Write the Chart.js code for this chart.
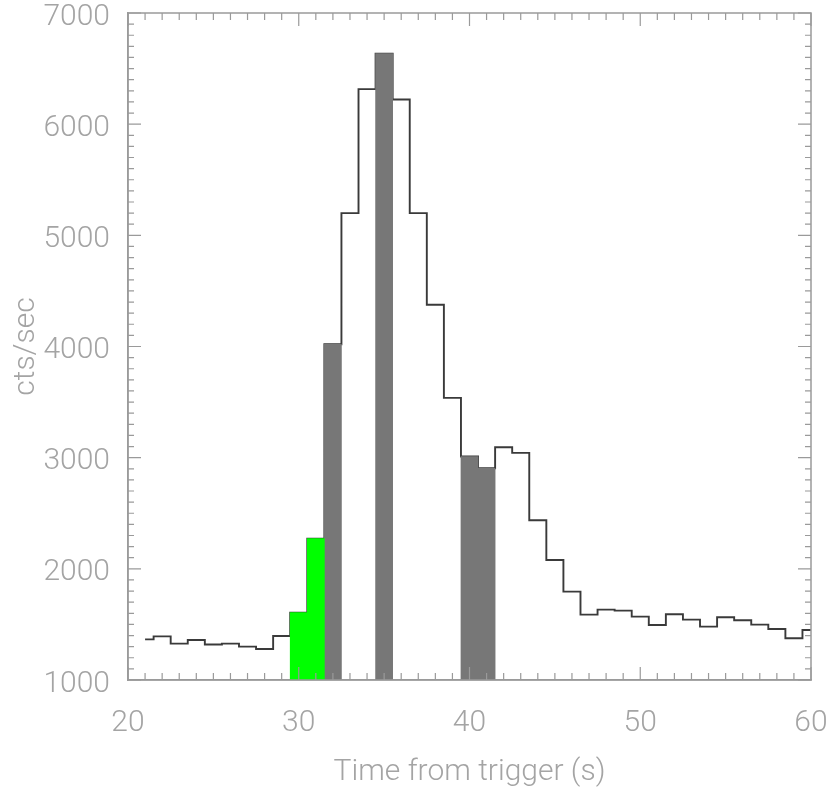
<!DOCTYPE html>
<html>
<head>
<meta charset="utf-8">
<script src="https://cdn.jsdelivr.net/npm/chart.js@4.4.1/dist/chart.umd.min.js"></script>
<style>
html,body{margin:0;padding:0;background:#fff;}
#wrap{width:828px;height:788px;position:relative;}
</style>
</head>
<body>
<div id="wrap"><canvas id="c" width="828" height="788"></canvas></div>
<script>
// Time (s) of each 1-s bin centre
const times = [21,22,23,24,25,26,27,28,29,30,31,32,33,34,35,36,37,38,39,40,41,42,43,44,45,46,47,48,49,50,51,52,53,54,55,56,57,58,59,60];
// Count rate (cts/sec) per bin
const rates = [1365,1392,1327,1360,1320,1327,1300,1279,1396,1606,2272,4020,5200,6315,6634,6222,5200,4375,3538,3010,2905,3094,3043,2437,2080,1795,1588,1633,1624,1570,1495,1591,1543,1480,1564,1537,1498,1459,1375,1450];
// Highlighted bins
const greenTimes = [30,31];
const grayTimes = [32,35,40,41];
// Axis ticks
const xTickValues = [20,30,40,50,60];
const yTickValues = [1000,2000,3000,4000,5000,6000,7000];

const rateAt = t => rates[times.indexOf(t)];
const linePts = times.map((t,i)=>({x:t,y:rates[i]}));
const greenPts = greenTimes.map(t=>({x:t,y:rateAt(t)}));
const grayPts = grayTimes.map(t=>({x:t,y:rateAt(t)}));

const FONT = "Roboto, 'Liberation Sans', sans-serif";
const AXIS = '#9a9a9a';
const TXT = '#a4a4a4';
const FS = 30;

const boxTicks = {
  id:'boxTicks',
  afterDraw(chart){
    const {ctx, chartArea:a, scales:{x,y}} = chart;
    ctx.save();
    ctx.strokeStyle = AXIS;
    ctx.lineWidth = 1.5;
    ctx.beginPath();
    ctx.rect(a.left, a.top, a.right-a.left, a.bottom-a.top);
    ctx.stroke();
    ctx.lineWidth = 1.2;
    ctx.beginPath();
    for (let v = x.min; v <= x.max + 1e-9; v += 1){
      const px = x.getPixelForValue(v);
      const L = (Math.round(v) % 10 === 0) ? 13 : 7;
      ctx.moveTo(px, a.bottom); ctx.lineTo(px, a.bottom - L);
      ctx.moveTo(px, a.top); ctx.lineTo(px, a.top + L);
    }
    for (let v = y.min; v <= y.max + 1e-9; v += 100){
      const py = y.getPixelForValue(v);
      const L = (Math.round(v) % 1000 === 0) ? 13 : 6;
      ctx.moveTo(a.left, py); ctx.lineTo(a.left + L, py);
      ctx.moveTo(a.right, py); ctx.lineTo(a.right - L, py);
    }
    ctx.stroke();
    ctx.restore();
  }
};

new Chart(document.getElementById('c'), {
  data:{
    datasets:[
      {type:'bar', label:'green', data:greenPts, backgroundColor:'#00ff00', borderWidth:0, barPercentage:1, categoryPercentage:1, grouped:false, order:0},
      {type:'bar', label:'gray', data:grayPts, backgroundColor:'#777777', borderWidth:0, barPercentage:1, categoryPercentage:1, grouped:false, order:0},
      {type:'line', label:'rate', data:linePts, stepped:'middle', borderColor:'#3a3a3a', borderWidth:1.9, pointRadius:0, fill:false, order:1}
    ]
  },
  options:{
    responsive:false,
    animation:false,
    layout:{padding:{left:8,right:17,top:13,bottom:0}},
    plugins:{legend:{display:false}, tooltip:{enabled:false}},
    scales:{
      x:{
        type:'linear', min:20, max:60, offset:false,
        afterBuildTicks(s){ s.ticks = xTickValues.map(v=>({value:v})); },
        afterFit(s){ s.height = 108; s.paddingLeft = 0; s.paddingRight = 0; },
        grid:{display:false, offset:false},
        border:{display:true,color:AXIS,width:1.5},
        ticks:{color:TXT, font:{family:FONT,size:FS,weight:300}, padding:17, maxRotation:0, callback:v=>String(v)},
        title:{display:true, text:'Time from trigger (s)', color:TXT, font:{family:FONT,size:FS,weight:300}, padding:{top:0,bottom:-2}}
      },
      y:{
        type:'linear', min:1000, max:7000,
        afterBuildTicks(s){ s.ticks = yTickValues.map(v=>({value:v})); },
        afterFit(s){ s.width = 128 - 8; s.paddingTop = 0; s.paddingBottom = 0; },
        grid:{display:false},
        border:{display:true,color:AXIS,width:1.5},
        ticks:{color:TXT, font:{family:FONT,size:FS,weight:300}, padding:10, labelOffset:4, callback:v=>String(v)},
        title:{display:true, text:'cts/sec', color:TXT, font:{family:FONT,size:FS,weight:300}, padding:{top:0,bottom:0}}
      }
    }
  },
  plugins:[boxTicks]
});
</script>
</body>
</html>
